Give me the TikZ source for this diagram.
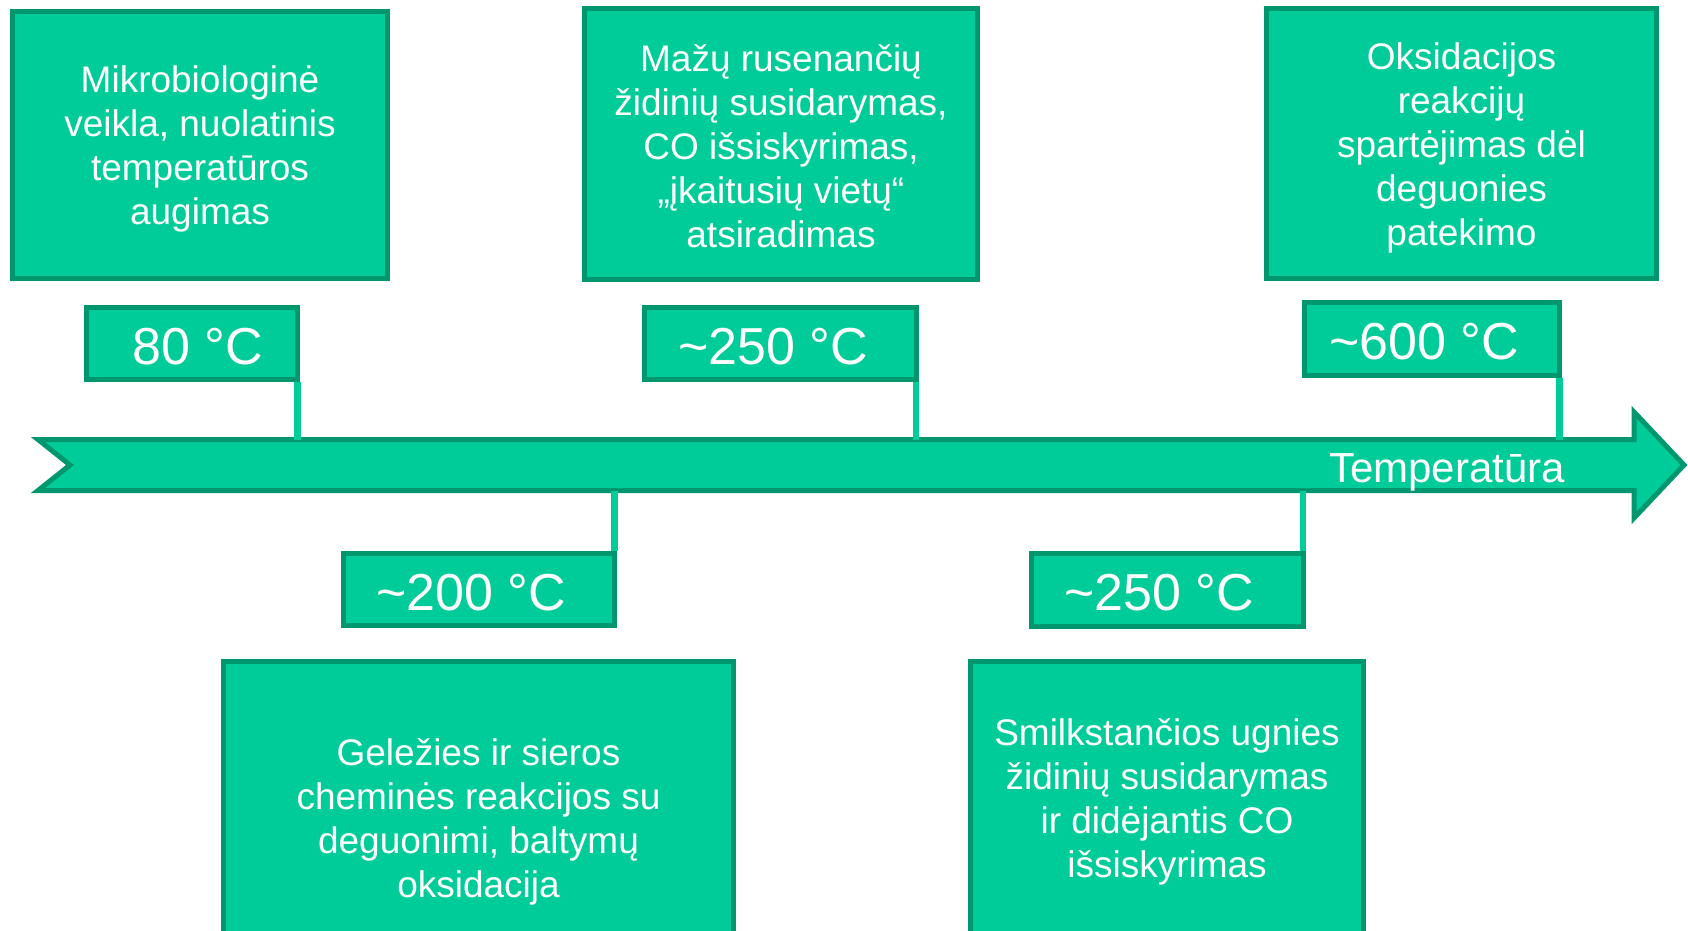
\documentclass[tikz,border=0pt]{standalone}
\usepackage{fontspec}
\setmainfont{Liberation Sans}
\definecolor{tfill}{RGB}{0,204,153}
\definecolor{tborder}{RGB}{0,150,110}
\tikzset{
  box/.style={draw=tborder, fill=tfill, line width=5pt, inner sep=0pt},
  boxtext/.style={text=white, inner sep=0pt, align=center, font=\fontsize{37}{44}\selectfont},
  templab/.style={draw=tborder, fill=tfill, line width=5pt, inner sep=0pt},
  temptext/.style={text=white, inner sep=0pt, font=\fontsize{52}{60}\selectfont},
  conn/.style={draw=tfill, line width=6.5pt},
  txt/.style={text=white, inner sep=0pt}
}
\begin{document}
\begin{tikzpicture}[x=1pt,y=-1pt]
\clip (0,0) rectangle (1688,930);
\fill[white] (0,0) rectangle (1688,930);
% arrow
\draw[draw=tborder, fill=tfill, line width=5pt, line join=miter]
  (38,439.5) -- (1634,439.5) -- (1634,412) -- (1684,465) -- (1634,518) -- (1634,490.5)
  -- (38,490.5) -- (70,465) -- cycle;
\node[txt, font=\fontsize{42}{50}\selectfont] (tlab) at (1447,472) {Temperatūra};
% arrow attachment points
\coordinate (a80) at (297.5,439.5);
\coordinate (a250a) at (916,439.5);
\coordinate (a600) at (1559.5,439.5);
\coordinate (a200) at (614.5,490.5);
\coordinate (a250b) at (1303,490.5);
% top boxes
\node[box, minimum width=375, minimum height=267] (t1) at (200,145) {};
\node[boxtext] (t1t) at (200,149)
  {Mikrobiologinė\\veikla, nuolatinis\\temperatūros\\augimas};
\node[box, minimum width=393, minimum height=271] (t2) at (781,144) {};
\node[boxtext] (t2t) at (781,146)
  {Mažų rusenančių\\židinių susidarymas,\\CO išsiskyrimas,\\„įkaitusių vietų“\\atsiradimas};
\node[box, minimum width=390, minimum height=270] (t3) at (1461.5,143.5) {};
\node[boxtext] (t3t) at (1461.5,147.5)
  {Oksidacijos\\reakcijų\\spartėjimas dėl\\deguonies\\patekimo};
% temperature labels
\node[templab, minimum width=211, minimum height=72] (l80) at (192,343.5) {};
\node[temptext] (l80t) at (198,346.5) {80 °C};
\node[templab, minimum width=272, minimum height=72] (l250a) at (780.5,343.5) {};
\node[temptext] (l250at) at (773,346.5) {\textasciitilde250 °C};
\node[templab, minimum width=255, minimum height=73] (l600) at (1432,339) {};
\node[temptext] (l600t) at (1424,342) {\textasciitilde600 °C};
\node[templab, minimum width=271, minimum height=72] (l200) at (479,589.5) {};
\node[temptext] (l200t) at (471,592.5) {\textasciitilde200 °C};
\node[templab, minimum width=272, minimum height=73] (l250b) at (1167.5,590) {};
\node[temptext] (l250bt) at (1159,593) {\textasciitilde250 °C};
% bottom boxes
\node[box, minimum width=510, minimum height=313] (b1) at (478.5,818) {};
\node[boxtext] (b1t) at (478.5,822)
  {Geležies ir sieros\\cheminės reakcijos su\\deguonimi, baltymų\\oksidacija};
\node[box, minimum width=393, minimum height=273] (b2) at (1167,798) {};
\node[boxtext] (b2t) at (1167,802)
  {Smilkstančios ugnies\\židinių susidarymas\\ir didėjantis CO\\išsiskyrimas};
% connectors
\draw[conn] (l80.south east -| a80) -- (a80);
\draw[conn] (l250a.south east -| a250a) -- (a250a);
\draw[conn] (l600.south east -| a600) -- (a600);
\draw[conn] (l200.north east -| a200) -- (a200);
\draw[conn] (l250b.north east -| a250b) -- (a250b);
\end{tikzpicture}
\end{document}
